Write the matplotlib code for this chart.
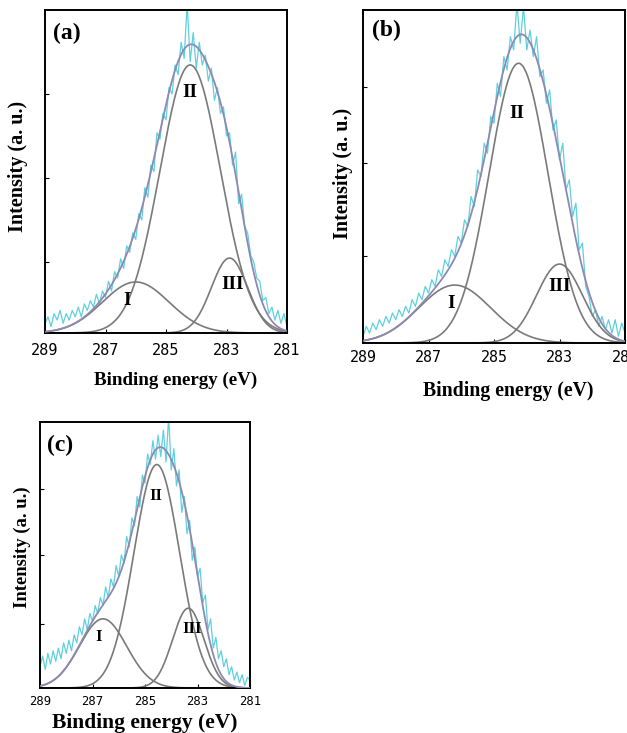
import numpy as np
import matplotlib
matplotlib.use("Agg")
import matplotlib.pyplot as plt

# binding energy grid of the raw spectra (eV), high -> low
E_START, E_STOP = 289.0, 281.0

# raw XPS C1s intensities (a.u., 0 = baseline), 0.1 eV apart
raw_a = [.03, .05, .02, .06, .04, .07, .03, .06, .04, .07,
         .05, .08, .05, .09, .07, .10, .08, .12, .09, .13,
         .11, .16, .13, .19, .17, .23, .20, .27, .25, .31,
         .29, .37, .35, .45, .42, .52, .50, .62, .60, .68,
         .66, .76, .74, .83, .80, .90, .85, 1.02, .84, .93,
         .82, .90, .83, .86, .78, .82, .72, .76, .68, .70,
         .61, .62, .52, .56, .40, .43, .33, .31, .24, .22,
         .17, .16, .10, .11, .06, .08, .04, .07, .03, .06, .02]
raw_b = [.02, .05, .03, .06, .04, .07, .05, .08, .06, .09,
         .07, .10, .08, .11, .09, .13, .11, .15, .13, .17,
         .15, .19, .17, .22, .20, .25, .23, .28, .26, .32,
         .30, .37, .35, .44, .41, .52, .50, .60, .57, .68,
         .66, .78, .74, .86, .82, .92, .88, 1.02, .90, 1.01,
         .88, .94, .86, .92, .80, .82, .72, .76, .64, .67,
         .55, .60, .46, .49, .38, .42, .28, .30, .17, .14,
         .08, .10, .05, .08, .04, .07, .03, .07, .02, .06, .03]
raw_c = [.08, .12, .07, .13, .09, .14, .10, .15, .11, .17,
         .13, .18, .14, .20, .17, .23, .20, .26, .22, .28,
         .25, .31, .28, .34, .31, .38, .34, .41, .38, .46,
         .42, .50, .47, .57, .53, .64, .61, .72, .68, .80,
         .77, .88, .84, .93, .86, .95, .87, .97, .85, 1.02,
         .82, .90, .76, .82, .66, .72, .58, .63, .48, .53,
         .42, .45, .32, .35, .22, .26, .15, .19, .11, .14,
         .08, .11, .05, .08, .03, .06, .02, .05, .01, .04, .03]

# fitted components: (centre eV, height, sigma eV) for peaks I, II, III
peaks_a = [(286.0, 0.158, 1.1), (284.2, 0.83, 1.0), (282.9, 0.232, 0.6)]
peaks_b = [(286.2, 0.174, 1.1), (284.25, 0.84, 0.9), (283.0, 0.237, 0.7)]
peaks_c = [(286.6, 0.26, 0.9), (284.55, 0.84, 0.87), (283.35, 0.30, 0.6)]

# where the peak names sit (eV, intensity)
names = ["I", "II", "III"]
name_pos_a = [(286.3, 0.10), (284.2, 0.745), (282.8, 0.15)]
name_pos_b = [(286.3, 0.12), (284.3, 0.69), (283.0, 0.17)]
name_pos_c = [(286.75, 0.19), (284.6, 0.72), (283.2, 0.22)]

yticks_a = [0.22, 0.48, 0.74]
yticks_b = [0.26, 0.54, 0.77]
yticks_c = [0.24, 0.50, 0.75]
xticks = [289, 287, 285, 283, 281]

RAW_COLOR = "#5fd0de"
FIT_COLOR = "#8c8ab0"
COMP_COLOR = "#7a7a7a"
SERIF = "Liberation Serif"


def gauss(x, c, h, s):
    return h * np.exp(-(x - c) ** 2 / (2 * s * s))


def panel(ax, tag, raw, peaks, name_pos, yticks, sizes, xlab_at, ylab_at,
          tag_y, tick_pad):
    tick_fs, xlab_fs, ylab_fs, name_fs = sizes
    e_raw = np.linspace(E_START, E_STOP, len(raw))
    e = np.linspace(E_START, E_STOP, 400)
    total = np.zeros_like(e)
    ax.plot(e_raw, raw, color=RAW_COLOR, lw=0.9, zorder=1)
    for c, h, s in peaks:
        comp = gauss(e, c, h, s)
        total += comp
        ax.plot(e, comp, color=COMP_COLOR, lw=1.2, zorder=2)
    ax.plot(e, total, color=FIT_COLOR, lw=1.3, zorder=3)
    for n, (x, y) in zip(names, name_pos):
        ax.text(x, y, n, family=SERIF, weight="bold", fontsize=name_fs,
                ha="center", va="center", zorder=4)
    ax.text(0.033, tag_y, tag, transform=ax.transAxes, family=SERIF,
            weight="bold", fontsize=17, ha="left", va="top")
    ax.set_xlim(E_START, E_STOP)
    ax.set_ylim(0, 1)
    ax.set_xticks(xticks)
    ax.set_xticklabels([str(t) for t in xticks], family="DejaVu Sans Mono",
                       fontsize=tick_fs)
    ax.set_yticks(yticks)
    ax.set_yticklabels([])
    ax.tick_params(direction="in", length=3, width=0.8, pad=tick_pad)
    for sp in ax.spines.values():
        sp.set_linewidth(1.4)
    ax.set_xlabel("Binding energy (eV)", family=SERIF, weight="bold",
                  fontsize=xlab_fs)
    ax.set_ylabel("Intensity (a. u.)", family=SERIF, weight="bold",
                  fontsize=ylab_fs)
    ax.xaxis.set_label_coords(*xlab_at)
    ax.yaxis.set_label_coords(*ylab_at)


fig = plt.figure(figsize=(6.27, 7.33), dpi=100)
ax_a = fig.add_axes([45 / 627, 1 - 333 / 733, 242 / 627, 323 / 733])
ax_b = fig.add_axes([363 / 627, 1 - 343 / 733, 262 / 627, 333 / 733])
ax_c = fig.add_axes([40 / 627, 1 - 688 / 733, 210 / 627, 266 / 733])

panel(ax_a, "(a)", raw_a, peaks_a, name_pos_a, yticks_a,
      (11, 13.7, 14.5, 14), (0.54, -0.121), (-0.070, 0.515), 0.96, 7)
panel(ax_b, "(b)", raw_b, peaks_b, name_pos_b, yticks_b,
      (10.8, 14.2, 14.5, 14), (0.555, -0.114), (-0.038, 0.51), 0.97, 5)
panel(ax_c, "(c)", raw_c, peaks_c, name_pos_c, yticks_c,
      (8.8, 15.5, 13.4, 12), (0.5, -0.094), (-0.043, 0.53), 0.95, 5)

fig.savefig("out.png", dpi=100)
